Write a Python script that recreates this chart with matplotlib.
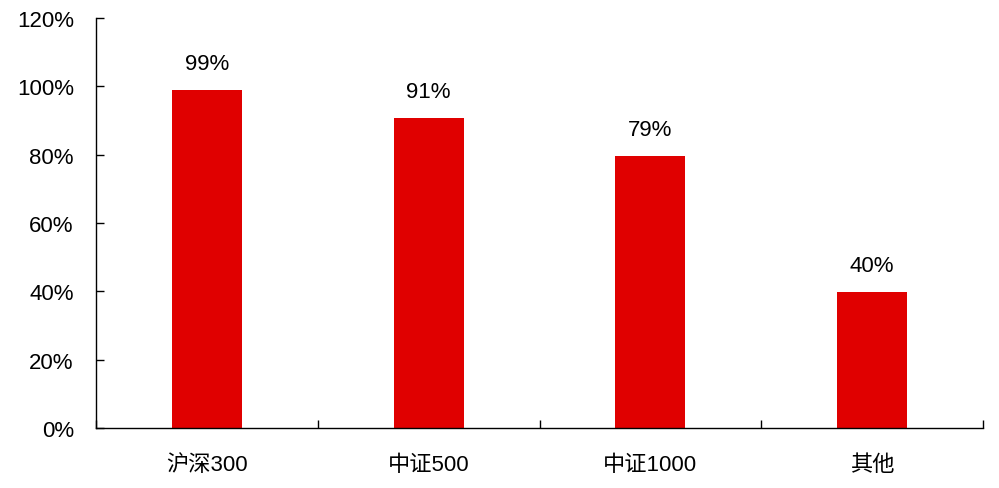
import matplotlib.pyplot as plt
import numpy as np

plt.rcParams['font.family'] = ['Liberation Sans', 'Noto Sans CJK SC']

categories = ['沪深300', '中证500', '中证1000', '其他']
values = [98.8, 90.6, 79.5, 39.8]
labels = ['99%', '91%', '79%', '40%']
yticks = [0, 20, 40, 60, 80, 100, 120]

fig = plt.figure(figsize=(9.99, 4.89), dpi=100)
ax = fig.add_axes([96 / 999, 60 / 489, 887 / 999, 410 / 489])

x = np.arange(len(categories))
ax.bar(x, values, width=0.315, color='#E00000')

for xi, v, lab in zip(x, values, labels):
    ax.text(xi, v + 4.8, lab, ha='center', va='bottom', fontsize=16)

ax.set_xlim(-0.5, len(categories) - 0.5)
ax.set_ylim(0, 120)
ax.set_yticks(yticks)
ax.set_yticklabels([f'{t}%' for t in yticks], fontsize=16)
ax.set_xticks(x)
ax.set_xticklabels(categories, fontsize=16)
ax.set_xticks(np.arange(-0.5, len(categories)), minor=True)

ax.tick_params(axis='x', which='major', length=0, pad=19)
ax.tick_params(axis='x', which='minor', direction='in', length=6, width=1)
ax.tick_params(axis='y', direction='in', length=6, width=1, pad=16)

for s in ['top', 'right']:
    ax.spines[s].set_visible(False)
for s in ['left', 'bottom']:
    ax.spines[s].set_linewidth(1)

fig.savefig('out.png', dpi=100)
